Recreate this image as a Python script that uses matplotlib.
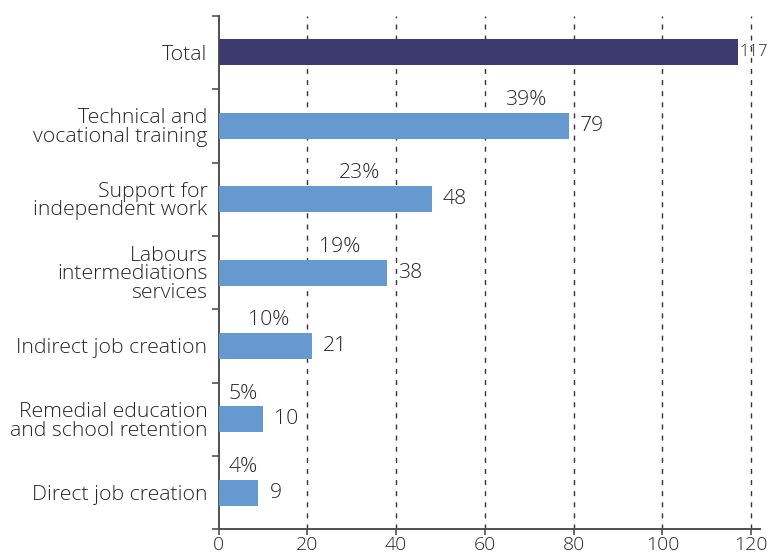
import numpy as np
import matplotlib
matplotlib.use("Agg")
import matplotlib.pyplot as plt

# Programme categories, top to bottom
categories = [
    "Total",
    "Technical and\nvocational training",
    "Support for\nindependent work",
    "Labours\nintermediations\nservices",
    "Indirect job creation",
    "Remedial education\nand school retention",
    "Direct job creation",
]
counts = [117, 79, 48, 38, 21, 10, 9]
shares = ["", "39%", "23%", "19%", "10%", "5%", "4%"]
x_ticks = [0, 20, 40, 60, 80, 100, 120]

# where each share label sits along the x axis (data units)
share_x = [None, 69.2, 31.7, 27.4, 11.2, 5.5, 5.5]

TEXT = "#262626"
AXIS = "#505050"
TOTAL_COLOR = "#3c3a6e"
BAR_COLOR = "#6699cf"

plt.rcParams["font.family"] = ["Open Sans", "DejaVu Sans"]
plt.rcParams["font.size"] = 15.3
plt.rcParams["font.weight"] = "light"

fig = plt.figure(figsize=(7.67, 5.57), dpi=100)
ax = fig.add_axes([0.2849, 0.0494, 0.706, 0.9224])

pos = np.arange(len(categories))
colors = [TOTAL_COLOR] + [BAR_COLOR] * (len(categories) - 1)
bar_h = 0.355
ax.barh(pos, counts, height=bar_h, color=colors, zorder=3)

ax.set_xlim(0, 122)
ax.set_ylim(len(categories) - 0.5, -0.5)

# dashed verticals at each tick except zero
for t in x_ticks[1:]:
    ax.axvline(t, color="#333333", lw=1.0, linestyle=(0, (3.6, 4.4)), zorder=1)

for p, v in zip(pos, counts):
    if v == max(counts):
        # the total sits right against the figure edge, so keep it compact
        ax.annotate(str(v), (v, p), xytext=(1, 0), textcoords="offset points",
                    ha="left", va="center", color=TEXT, fontsize=12)
    else:
        ax.annotate(str(v), (v, p), xytext=(8, 0), textcoords="offset points",
                    ha="left", va="center", color=TEXT)

for p, s, sx in zip(pos, shares, share_x):
    if s:
        ax.annotate(s, (sx, p - bar_h / 2), xytext=(0, 2), textcoords="offset points",
                    ha="center", va="bottom", color=TEXT)

ax.set_yticks(pos)
ax.set_yticklabels(categories, linespacing=0.92)
ax.set_yticks(np.arange(len(categories) + 1) - 0.5, minor=True)
ax.tick_params(axis="y", which="major", length=0, pad=8, colors=TEXT)
ax.tick_params(axis="y", which="minor", length=5, width=1.2, color=AXIS)

ax.set_xticks(x_ticks)
ax.set_xticklabels([str(t) for t in x_ticks], fontsize=14)
ax.tick_params(axis="x", length=4, width=1.2, color=AXIS, labelcolor=TEXT, pad=1)

for side in ["top", "right"]:
    ax.spines[side].set_visible(False)
for side in ["left", "bottom"]:
    ax.spines[side].set_color(AXIS)
    ax.spines[side].set_linewidth(1.4)

fig.savefig("out.png", dpi=100)
